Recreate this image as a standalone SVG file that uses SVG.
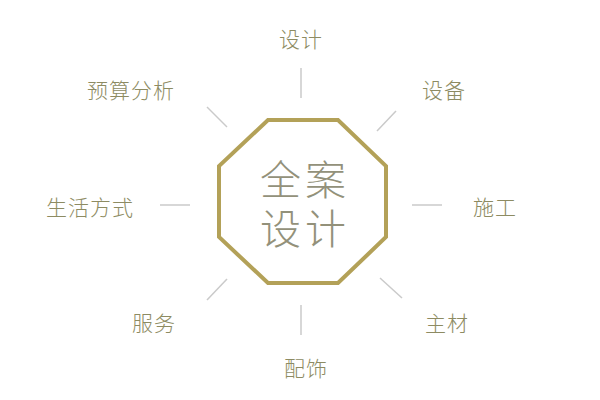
<svg xmlns="http://www.w3.org/2000/svg" width="600" height="400" viewBox="0 0 600 400">
<style>
.lbl{font-family:"Noto Sans CJK SC","Noto Sans",sans-serif;font-size:21px;fill:#8d8b62;font-weight:300;letter-spacing:1px}
.ctr{font-family:"Noto Sans CJK SC","Noto Sans",sans-serif;font-size:41px;fill:#93917a;font-weight:300;letter-spacing:4px}
.con{stroke:#cacaca;stroke-width:1.5;fill:none}
</style>
<rect width="600" height="400" fill="#ffffff"/>
<g id="center">
<polygon points="268,120 338,120 386,166 386,237 338,283 268,283 219,237 219,166" fill="none" stroke="#b3a158" stroke-width="4"/>
<text class="ctr" text-anchor="middle"><tspan x="305" y="195">全案</tspan><tspan x="305" y="244">设计</tspan></text>
</g>
<g id="connectors">
<line class="con" x1="301" y1="68" x2="301" y2="98"/>
<line class="con" x1="207" y1="107" x2="227" y2="127"/>
<line class="con" x1="396" y1="111" x2="377" y2="131"/>
<line class="con" x1="160" y1="205" x2="190" y2="205"/>
<line class="con" x1="412" y1="205" x2="442" y2="205"/>
<line class="con" x1="207" y1="300" x2="227" y2="279"/>
<line class="con" x1="380" y1="278" x2="402" y2="298"/>
<line class="con" x1="301" y1="305" x2="301" y2="335"/>
</g>
<g id="n-sheji"><text class="lbl" x="301" y="47" text-anchor="middle">设计</text></g>
<g id="n-yusuan"><text class="lbl" x="131" y="98" text-anchor="middle">预算分析</text></g>
<g id="n-shebei"><text class="lbl" x="444" y="98" text-anchor="middle">设备</text></g>
<g id="n-shenghuo"><text class="lbl" x="90" y="215" text-anchor="middle">生活方式</text></g>
<g id="n-shigong"><text class="lbl" x="495" y="215" text-anchor="middle">施工</text></g>
<g id="n-fuwu"><text class="lbl" x="154" y="331" text-anchor="middle">服务</text></g>
<g id="n-zhucai"><text class="lbl" x="447" y="331" text-anchor="middle">主材</text></g>
<g id="n-peishi"><text class="lbl" x="306" y="376" text-anchor="middle">配饰</text></g>
</svg>
